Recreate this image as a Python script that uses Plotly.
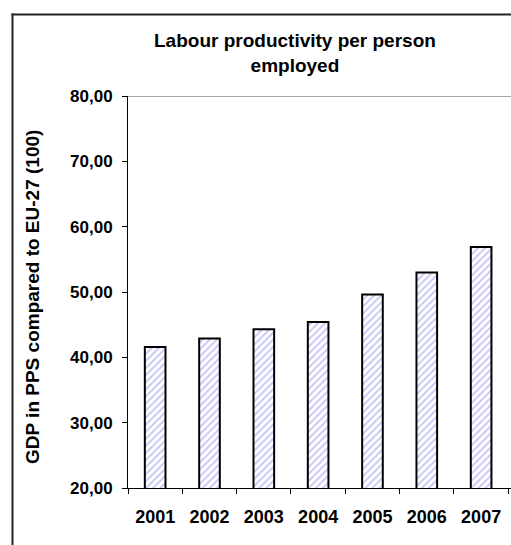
import plotly.graph_objects as go

years = ["2001", "2002", "2003", "2004", "2005", "2006", "2007"]
productivity = [41.6, 42.9, 44.3, 45.4, 49.6, 53.0, 56.9]
y_ticks = [20, 30, 40, 50, 60, 70, 80]

W, H = 511, 545
L, R, T, B = 128, 0, 96, 57
pw, ph = W - L - R, H - T - B

def px_x(p):
    return (p - L) / pw

def px_y(p):
    return (H - B - p) / ph

fig = go.Figure()
fig.add_trace(go.Bar(
    x=years, y=productivity, width=0.38,
    marker=dict(color="white",
                line=dict(color="black", width=2),
                pattern=dict(shape="/", fgcolor="#8f8fef", bgcolor="white",
                             size=5, solidity=0.4, fillmode="overlay")),
    showlegend=False,
))

font = "Liberation Sans, Arial, sans-serif"
fig.update_layout(
    width=W, height=H,
    margin=dict(l=L, r=R, t=T, b=B),
    paper_bgcolor="white", plot_bgcolor="white",
    separators=", ",
    xaxis=dict(
        type="category", range=[-0.5, 6.55],
        showline=True, linecolor="black", linewidth=1,
        ticks="outside", ticklen=5, tickcolor="black", tickson="boundaries",
        tickfont=dict(family=font, size=18, color="black", weight="bold"),
        ticklabelstandoff=12, showgrid=False,
    ),
    yaxis=dict(
        range=[20, 80], tickvals=y_ticks, tickformat=".2f",
        showline=True, linecolor="black", linewidth=1,
        ticks="outside", ticklen=5, tickcolor="black",
        tickfont=dict(family=font, size=17, color="black", weight="bold"),
        ticklabelstandoff=6, showgrid=False, zeroline=False,
    ),
    shapes=[
        dict(type="line", xref="paper", yref="y", x0=0, x1=1, y0=80, y1=80,
             line=dict(color="#888888", width=1.5)),
        dict(type="line", xref="paper", yref="paper",
             x0=px_x(12.5), x1=px_x(12.5), y0=px_y(545), y1=px_y(13.5),
             line=dict(color="#222222", width=2)),
        dict(type="line", xref="paper", yref="paper",
             x0=px_x(11.5), x1=px_x(511), y0=px_y(14.5), y1=px_y(14.5),
             line=dict(color="#222222", width=2)),
    ],
    annotations=[
        dict(text="Labour productivity per person<br>employed", xref="paper", yref="paper",
             x=px_x(295), y=px_y(53), showarrow=False, xanchor="center", yanchor="middle",
             font=dict(family=font, size=19, color="black", weight="bold")),
        dict(text="GDP in PPS compared to EU-27 (100)", xref="paper", yref="paper",
             x=px_x(32), y=px_y(297), showarrow=False, textangle=-90,
             xanchor="center", yanchor="middle",
             font=dict(family=font, size=19, color="black", weight="bold")),
    ],
)

fig.write_html("out.html", config={"displayModeBar": False})
